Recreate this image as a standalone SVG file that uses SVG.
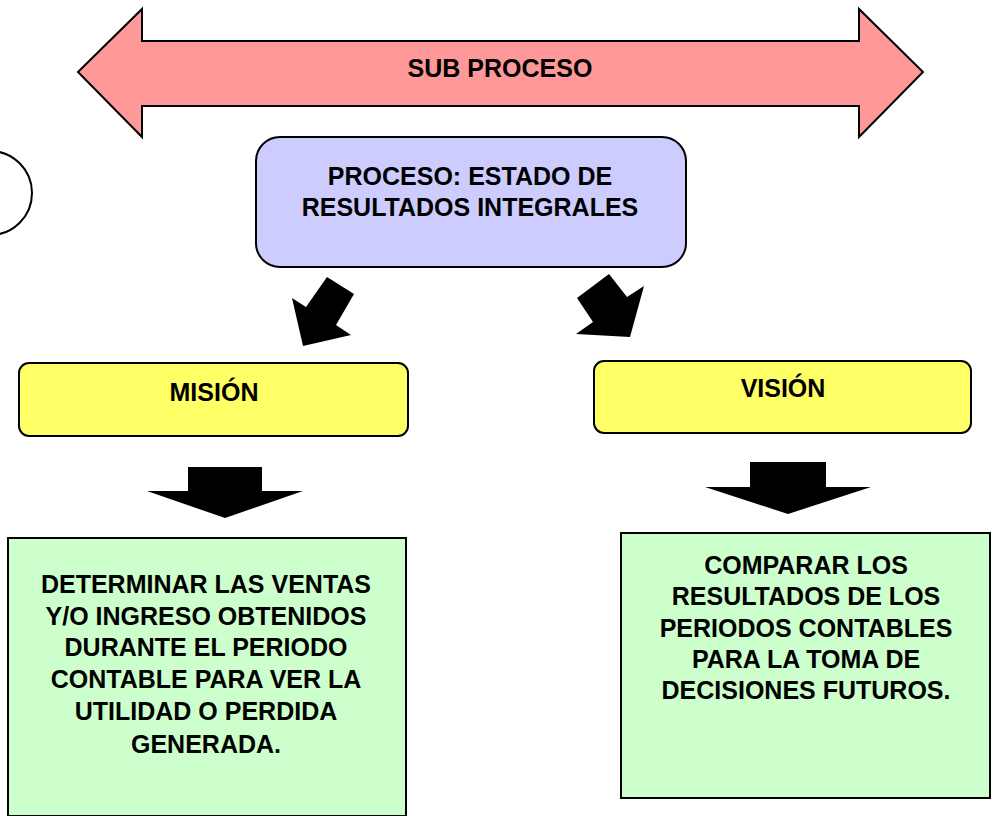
<svg xmlns="http://www.w3.org/2000/svg" width="993" height="816" viewBox="0 0 993 816">
<style>
text{font-family:"Liberation Sans",Arial,sans-serif;font-weight:bold;font-size:25px;fill:#000;text-anchor:middle}
.box{stroke:#000;stroke-width:2}
.arr{fill:#000;stroke:none}
</style>
<rect width="993" height="816" fill="#fff"/>
<g id="subproceso">
<polygon class="box" fill="#ff9999" points="78,72 142,9 142,41 859,41 859,9 923,72 859,137 859,106 142,106 142,137"/>
<text x="500" y="77">SUB PROCESO</text>
</g>
<g id="circulo">
<circle cx="-10" cy="193" r="42" fill="none" stroke="#000" stroke-width="2"/>
</g>
<g id="proceso">
<rect class="box" x="256" y="137" width="430" height="130" rx="24" fill="#ccccff"/>
<text x="470" y="185">PROCESO: ESTADO DE</text>
<text x="470" y="216">RESULTADOS INTEGRALES</text>
</g>
<g id="mision">
<rect class="box" x="19" y="363" width="389" height="73" rx="10" fill="#ffff66"/>
<text x="214" y="401">MISIÓN</text>
</g>
<g id="vision">
<rect class="box" x="594" y="361" width="377" height="72" rx="10" fill="#ffff66"/>
<text x="783" y="397">VISIÓN</text>
</g>
<g id="mision-texto">
<rect class="box" x="8" y="538" width="398" height="278" fill="#ccffcc"/>
<text x="206" y="593">DETERMINAR LAS VENTAS</text>
<text x="206" y="625">Y/O INGRESO OBTENIDOS</text>
<text x="206" y="656">DURANTE EL PERIODO</text>
<text x="206" y="688">CONTABLE PARA VER LA</text>
<text x="206" y="720">UTILIDAD O PERDIDA</text>
<text x="206" y="753">GENERADA.</text>
</g>
<g id="vision-texto">
<rect class="box" x="621" y="533" width="369" height="265" fill="#ccffcc"/>
<text x="806" y="574">COMPARAR LOS</text>
<text x="806" y="605">RESULTADOS DE LOS</text>
<text x="806" y="637">PERIODOS CONTABLES</text>
<text x="806" y="668">PARA LA TOMA DE</text>
<text x="806" y="699">DECISIONES FUTUROS.</text>
</g>
<g id="conectores">
<polygon class="arr" points="327,277 354,294 336,325 351,335 303,346 292,298 306,307"/>
<polygon class="arr" points="609,274 627,297 644,286 630,337 576,334 593,322 577,298"/>
<polygon class="arr" points="188,467 262,467 262,491 303,491 225,518 147,491 188,491"/>
<polygon class="arr" points="750,462 826,462 826,487 871,487 788,514 705,487 750,487"/>
</g>
</svg>
